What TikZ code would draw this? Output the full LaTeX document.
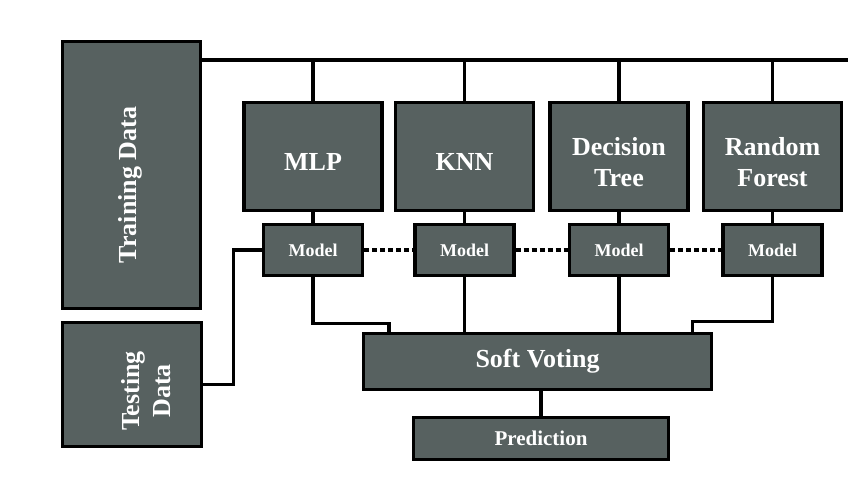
\documentclass[tikz,border=0pt]{standalone}
\usepackage{fontspec}
\setmainfont{Liberation Serif}
\usetikzlibrary{calc}
\definecolor{boxgray}{RGB}{87,97,96}
\begin{document}
\begin{tikzpicture}[x=1pt,y=-1pt,
	box/.style={draw=black,line width=3.3pt,fill=boxgray,text=white,font=\bfseries,inner sep=0pt},
	wire/.style={line width=3.3pt},
	big/.style={font=\bfseries\fontsize{26}{31}\selectfont},
	small/.style={font=\bfseries\fontsize{18}{21}\selectfont}]
	\useasboundingbox (0,0) rectangle (850,500);
	% data boxes
	\node[box,minimum width=138,minimum height=267] (train) at (131.5,175) {};
	\node[big,text=white,rotate=90] (trainT) at (130,185) {Training Data};
	\node[box,minimum width=139,minimum height=124] (test) at (132,384.5) {};
	\node[big,text=white,rotate=90,align=center] (testT) at (146,391) {Testing\\Data};
	\coordinate (busR) at (848,60);
	\draw[wire] (train.east |- busR) -- (busR);
	% classifiers and models
	\foreach \i/\x/\name in {1/313/MLP,2/464.5/KNN,3/619/Decision\\Tree,4/772.5/Random\\Forest}
	{
		\node[box,minimum width=138,minimum height=108] (c\i) at (\x,156.5) {};
		\node[big,text=white,align=center] (c\i T) at (\x,162) {\name};
		\node[box,small,minimum width=99,minimum height=51] (m\i) at (\x,250) {Model};
		\draw[wire] (c\i.north |- busR) -- (c\i.north);
		\draw[wire] (c\i.south) -- (m\i.north);
	}
	\foreach \i/\j in {1/2,2/3,3/4}
	{
		\draw[wire,dash pattern=on 5pt off 3pt] (m\i.east) -- (m\j.west);
	}
	% voting
	\node[box,big,minimum width=348,minimum height=56] (vote) at (537.5,361.5) {Soft Voting};
	\node[box,font=\bfseries\fontsize{21}{25}\selectfont,minimum width=255,minimum height=42] (pred) at (541,438.5) {Prediction};
	\draw[wire] (test.east) -- ++(30,0) |- (m1.west);
	\draw[wire] (m1.south) -- ++(0,46) -| ($(vote.north west)+(27,0)$);
	\draw[wire] (m2.south) -- (m2.south |- vote.north);
	\draw[wire] (m3.south) -- (m3.south |- vote.north);
	\draw[wire] (m4.south) -- ++(0,44) -| ($(vote.north east)+(-21,0)$);
	\draw[wire] (pred.north |- vote.south) -- (pred.north);
\end{tikzpicture}
\end{document}
